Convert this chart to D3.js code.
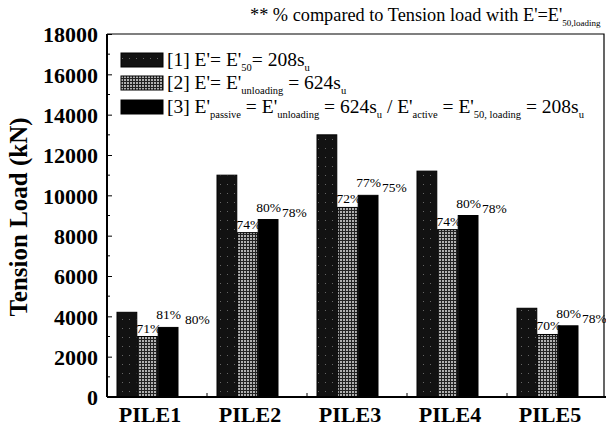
<!DOCTYPE html>
<html><head><meta charset="utf-8">
<script src="https://cdn.jsdelivr.net/npm/d3@7"></script>
</head><body style="margin:0">
<svg id="c" width="606" height="427"></svg>
<script>
const piles = ["PILE1","PILE2","PILE3","PILE4","PILE5"];
const seriesKeys = ["s1","s2","s3"];
const s1 = [4200, 11000, 13000, 11200, 4400];
const s2 = [3000, 8150, 9400, 8300, 3100];
const s3 = [3450, 8800, 10000, 9000, 3530];
const pct2 = ["71%","74%","72%","74%","70%"];
const pct3 = ["81%","80%","77%","80%","80%"];
const pct4 = ["80%","78%","75%","78%","78%"];
const yTicks = [0,2000,4000,6000,8000,10000,12000,14000,16000,18000];

const svg = d3.select("#c");
const FF = '"Liberation Serif"';
const L = 107, R = 604, T = 34, B = 397;

const defs = svg.append("defs");
const p1 = defs.append("pattern").attr("id","pat1").attr("patternUnits","userSpaceOnUse").attr("width",7).attr("height",9);
p1.append("rect").attr("width",7).attr("height",9).attr("fill","#121212");
p1.append("rect").attr("x",3).attr("y",4).attr("width",1).attr("height",1).attr("fill","#666");
const p2 = defs.append("pattern").attr("id","pat2").attr("patternUnits","userSpaceOnUse").attr("width",3).attr("height",3);
p2.append("rect").attr("width",3).attr("height",3).attr("fill","#b0b0b0");
p2.append("rect").attr("width",3).attr("height",1).attr("fill","#222");
p2.append("rect").attr("width",1).attr("height",3).attr("fill","#222");
const fills = {s1:"url(#pat1)", s2:"url(#pat2)", s3:"#000"};

const x = d3.scaleBand().domain(piles).range([L, L+500]);
const xi = d3.scaleBand().domain(seriesKeys).range([10, 71]).paddingInner(0.04);
const y = d3.scaleLinear().domain([0,18000]).range([B, T]);

const data = piles.map((p,i)=>({pile:p, s1:s1[i], s2:s2[i], s3:s3[i], p2:pct2[i], p3:pct3[i], p4:pct4[i]}));

// bars
const g = svg.append("g");
data.forEach(d=>{
  seriesKeys.forEach(k=>{
    g.append("rect")
      .attr("x", x(d.pile)+xi(k)).attr("width", xi.bandwidth())
      .attr("y", y(d[k])).attr("height", B - y(d[k]))
      .attr("fill", fills[k]).attr("stroke","#000").attr("stroke-width",1);
  });
});

// frame
svg.append("path").attr("d",`M${L},${T}H${R}V${B}`).attr("fill","none").attr("stroke","#000").attr("stroke-width",1.2);
svg.append("line").attr("x1",L).attr("x2",R+2).attr("y1",B).attr("y2",B).attr("stroke","#000").attr("stroke-width",2);
svg.append("line").attr("x1",L).attr("x2",L).attr("y1",T).attr("y2",B).attr("stroke","#000").attr("stroke-width",2);

// y axis
const yAxis = d3.axisLeft(y).tickValues(yTicks).tickSize(-5).tickPadding(8).tickFormat(d3.format("d"));
const ya = svg.append("g").attr("transform",`translate(${L},0)`).call(yAxis);
ya.attr("font-family",null).attr("font-size",null);
ya.select(".domain").remove();
ya.selectAll("text").style("font-family",FF).attr("font-weight","bold").attr("font-size","22px").attr("fill","#000").attr("x",-9).attr("dy","0.36em");
ya.selectAll("line").attr("stroke","#000");
const minor = d3.range(1000,18000,2000);
svg.append("g").selectAll("line").data(minor).join("line")
  .attr("x1",L).attr("x2",L+3).attr("y1",d=>y(d)).attr("y2",d=>y(d)).attr("stroke","#000");

// x axis
const xAxis = d3.axisBottom(x).tickSize(0).tickPadding(10);
const xa = svg.append("g").attr("transform",`translate(0,${B})`).call(xAxis);
xa.attr("font-family",null).attr("font-size",null);
xa.select(".domain").remove();
xa.selectAll(".tick").attr("transform", d=>`translate(${x(d)+43},0)`);
xa.selectAll("text").style("font-family",FF).attr("font-weight","bold").attr("font-size","22px").attr("fill","#000").attr("y",25).attr("dy",0);
svg.append("g").selectAll("line").data(piles.slice(1)).join("line")
  .attr("x1",d=>x(d)).attr("x2",d=>x(d)).attr("y1",B).attr("y2",B-4).attr("stroke","#000");

// y title
svg.append("text").attr("transform","translate(27,217) rotate(-90)").attr("text-anchor","middle")
  .style("font-family",FF).attr("font-weight","bold").attr("font-size","25px").text("Tension Load (kN)");

// percent labels
data.forEach(d=>{
  const b2 = x(d.pile)+xi("s2"), b3 = x(d.pile)+xi("s3");
  svg.append("text").style("font-family",FF).attr("font-size","13.5px").attr("x", b2-1).attr("y", y(d.s2)-4).text(d.p2);
  const t = svg.append("text").style("font-family",FF).attr("font-size","13.5px").attr("x", b3-2).attr("y", y(d.s3)-8);
  t.append("tspan").text(d.p3);
  t.append("tspan").attr("dx", d.pile==="PILE1"?4:1).attr("dy",5).text(d.p4);
});

// rich text helper: parts = [[text, isSub], ...]
function rich(sel, parts, subSize){
  let sub=false;
  parts.forEach(([s,isSub])=>{
    const ts = sel.append("tspan").text(s);
    if(isSub && !sub){ ts.attr("dy",5).attr("font-size",subSize); sub=true; }
    else if(isSub){ ts.attr("font-size",subSize); }
    else if(!isSub && sub){ ts.attr("dy",-5); sub=false; }
  });
}

// top note
const note = svg.append("text").style("font-family",FF).attr("x",250).attr("y",21).attr("font-size","18.3px");
rich(note, [["** % compared to Tension load with E'=E'",false],["50,loading",true]], "9px");

// legend
const legRows = [
  {key:"s1", y:60, parts:[["[1] E'= E'",false],["50",true],["= 208s",false],["u",true]]},
  {key:"s2", y:83, parts:[["[2] E'= E'",false],["unloading",true],[" = 624s",false],["u",true]]},
  {key:"s3", y:107, parts:[["[3] E'",false],["passive",true],[" = E'",false],["unloading",true],[" = 624s",false],["u",true],[" / E'",false],["active",true],[" = E'",false],["50, loading",true],[" = 208s",false],["u",true]]}
];
legRows.forEach(r=>{
  svg.append("rect").attr("x",121).attr("y",r.y-7).attr("width",42).attr("height",14).attr("fill",fills[r.key]).attr("stroke","#000");
  const t = svg.append("text").style("font-family",FF).attr("x",167).attr("y",r.y+6).attr("font-size","19.5px");
  rich(t, r.parts, "10.5px");
});
</script>
</body></html>
